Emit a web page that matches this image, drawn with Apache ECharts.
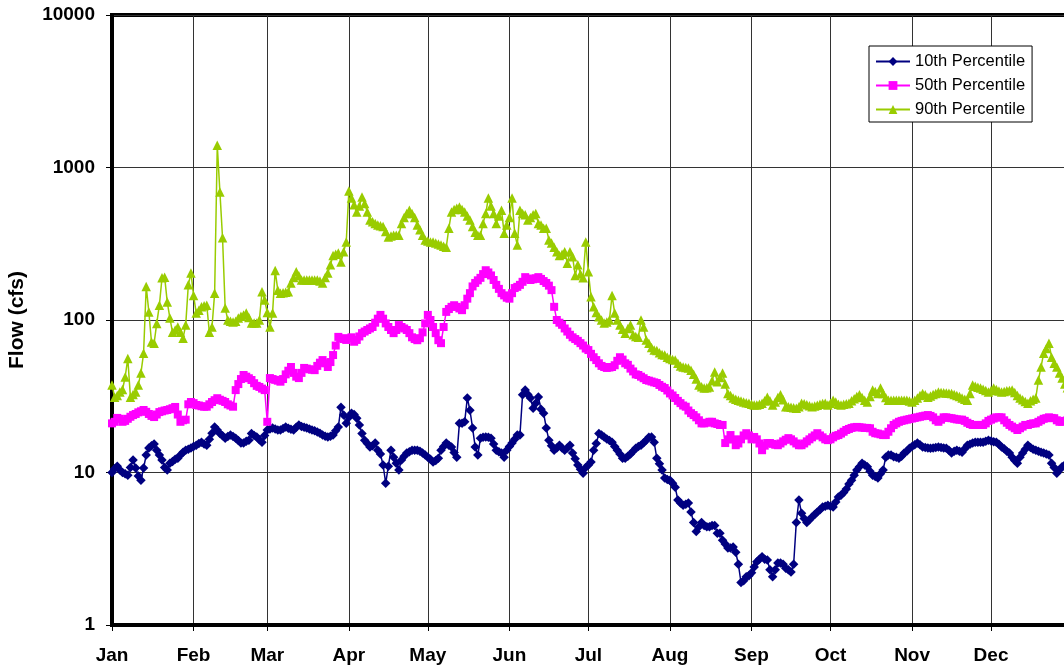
<!DOCTYPE html>
<html>
<head>
<meta charset="utf-8">
<script src="https://cdn.jsdelivr.net/npm/echarts@6/dist/echarts.min.js"></script>
<style>
  html, body { margin: 0; padding: 0; background: #fff; }
  #chart { width: 1064px; height: 671px; }
</style>
</head>
<body>
<div id="chart"></div>
<script>
// Month tick labels and month lengths (365-day year)
const months = ['Jan', 'Feb', 'Mar', 'Apr', 'May', 'Jun', 'Jul', 'Aug', 'Sep', 'Oct', 'Nov', 'Dec'];
const monthDays = [31, 28, 31, 30, 31, 30, 31, 31, 30, 31, 30, 31];

// Daily flow percentiles (cfs), Jan 1 .. Dec 31
const p10 = [
  10, 10.6, 11, 10.4, 10, 9.8, 9.6, 10.8, 12.1, 10.7,
  9.5, 8.9, 10.7, 13, 14.5, 15, 15.4, 14, 13, 12.1,
  10.8, 10.4, 11.5, 11.8, 12.2, 12.4, 13, 13.6, 14, 14.2,
  14.5, 14.8, 15.1, 15.5, 15.8, 15.4, 15.1, 16.5, 18.1, 19.9,
  19, 18, 17.4, 16.8, 17.2, 17.6, 17.2, 16.8, 16.2, 15.6,
  15.6, 16, 16.3, 18, 17.5, 17.1, 16.4, 15.8, 17.5, 19,
  19.3, 19.6, 19.3, 19, 19, 19.4, 19.9, 19.5, 19.2, 19,
  19.8, 20.5, 20, 19.8, 19.6, 19.3, 19, 18.8, 18.4, 18.1,
  17.6, 17.3, 17.1, 17.3, 17.6, 18.8, 19.9, 26.8, 23.8, 21,
  23, 24.5, 24, 22.7, 20.5, 18, 16.3, 15.5, 14.7, 15,
  15.6, 14, 13.2, 11.2, 8.5, 11, 14, 12.6, 11.5, 10.4,
  12.1, 12.8, 13.4, 13.7, 14, 14, 14, 13.8, 13.4, 13,
  12.6, 12.2, 11.7, 12, 12.4, 14, 14.8, 15.6, 15.1, 14.7,
  13.5, 12.6, 21, 21, 21.5, 30.8, 25.6, 19.6, 14.7, 13,
  16.8, 17, 17.1, 17, 16.8, 15.4, 14, 13.7, 13.4, 12.6,
  14, 14.8, 15.6, 16.5, 17.6, 17.6, 32.3, 34.7, 32.5, 30.8,
  26.4, 28.5, 31.3, 26, 24.5, 19.6, 16.3, 15, 14, 14.5,
  15.1, 14.5, 14, 14.5, 15.1, 13.4, 12.3, 11.2, 10.5, 9.9,
  10.8, 11.2, 11.7, 14, 15.5, 18, 17.6, 17.1, 16.6, 16.2,
  15.8, 14.8, 14, 13.2, 12.4, 12.4, 12.8, 13.2, 13.8, 14.4,
  14.8, 15.1, 15.7, 16.3, 17, 17.1, 15.8, 12.4, 11.4, 10.4,
  9.2, 9, 8.9, 8.5, 8, 6.6, 6.3, 6.1, 6.2, 6.3,
  5.5, 4.7, 4.1, 4.4, 4.7, 4.5, 4.4, 4.4, 4.5, 4.5,
  4, 4, 3.6, 3.4, 3.2, 3.2, 3.25, 3, 2.5, 1.9,
  1.95, 2.07, 2.1, 2.2, 2.4, 2.6, 2.7, 2.8, 2.7, 2.67,
  2.3, 2.07, 2.3, 2.55, 2.55, 2.5, 2.36, 2.3, 2.23, 2.5,
  4.7, 6.6, 5.4, 5, 4.7, 4.9, 5.1, 5.3, 5.5, 5.7,
  5.95, 6, 6.1, 6, 5.95, 6.4, 6.9, 7.1, 7.4, 7.8,
  8.4, 8.9, 9.6, 10.4, 10.9, 11.5, 11.2, 10.9, 10.2, 9.6,
  9.4, 9.2, 9.8, 10.4, 12.6, 13, 13, 12.7, 12.6, 12.4,
  12.8, 13.4, 13.8, 14.4, 14.8, 15.2, 15.6, 15.2, 14.7, 14.6,
  14.5, 14.4, 14.5, 14.6, 14.7, 14.6, 14.5, 14.4, 14, 13.4,
  13.8, 14, 13.8, 13.6, 14.3, 15.1, 15.3, 15.6, 15.8, 15.8,
  15.8, 15.8, 16, 16.3, 16.1, 15.9, 15.8, 15.3, 14.7, 14.3,
  13.8, 13.4, 12.6, 12, 11.5, 12.6, 13.4, 14.2, 15.1, 14.6,
  14.2, 14, 13.8, 13.6, 13.4, 13.2, 13, 11.5, 10.8, 9.9,
  10.4, 10.9, 11.2, 11.5, 11.8
];

const p50 = [
  21, 21.5, 22.8, 22.5, 21.5, 21.8, 22.5, 23.2, 23.8, 24.2,
  24.8, 25.2, 25.7, 25, 24.2, 23.5, 23.1, 24, 24.9, 25.2,
  25.5, 25.7, 26, 26.4, 26.9, 24, 21.5, 22, 22.2, 28,
  29, 28.5, 27.7, 27.5, 27.2, 27, 27, 28, 29, 29.8,
  30.7, 30, 29.5, 29, 28, 27.5, 27, 34.7, 38, 41,
  43.6, 42.5, 41.5, 40.4, 38.5, 37, 36.4, 35.5, 34.7, 21.5,
  41.6, 41, 40.5, 40, 39.4, 41, 44, 46.5, 49.2, 45,
  42.5, 41.6, 45, 48.5, 48, 47.5, 47.2, 46.9, 50, 52.5,
  54.6, 52, 49.2, 53, 58.9, 68, 77.5, 76, 75, 74,
  76, 77, 72, 74, 78, 82, 84, 86, 88, 90,
  96, 102, 108, 102, 95, 90, 86, 82, 86, 92.6,
  90, 88, 86, 82, 77, 75, 73.7, 76, 83, 95,
  108, 100, 90, 82, 73.7, 70.5, 90, 113, 118, 122,
  125, 122, 119, 116, 125, 138, 150, 166, 175, 182,
  189, 200, 212, 205, 196, 183, 170, 160, 150, 145,
  140, 138, 150, 162, 165, 170, 178, 191, 187, 183,
  185, 188, 191, 186, 180, 175, 168, 157, 122, 100,
  96, 93, 88, 84, 80, 77, 75, 73, 70.5, 68,
  65, 63.5, 60, 57, 54.6, 52, 50, 49.2, 48.5, 48.8,
  49.2, 50.5, 54, 57, 55, 52, 50.8, 48, 46, 44,
  43.6, 42.5, 41.5, 40.4, 40, 39.5, 39, 38.6, 37.5, 36.5,
  35.8, 34.5, 33, 32, 30.8, 29.5, 28.5, 27.5, 27, 25.5,
  24.5, 23.8, 23, 22, 21, 21, 21.2, 21.5, 21.5, 21,
  20.8, 20.5, 20.5, 15.6, 16.5, 17.6, 16.5, 15.1, 15.5, 16.5,
  17.5, 18.1, 17.5, 16.5, 17.1, 16.5, 15.5, 14, 15, 15.6,
  15.6, 15.4, 15.2, 15.1, 15.5, 16, 16.4, 16.8, 16.5, 16,
  15.5, 15.1, 15.1, 15.5, 16, 16.5, 17, 17.5, 18.1, 17.5,
  17, 16.5, 16.3, 16.5, 17, 17.4, 17.6, 18, 18.5, 19,
  19.3, 19.6, 19.8, 19.9, 19.8, 19.7, 19.6, 19.6, 19.5, 18.5,
  18.1, 18, 17.8, 17.6, 17.6, 18.5, 19.5, 20.5, 21, 21.5,
  21.8, 22, 22.2, 22.4, 22.6, 22.8, 23, 23.2, 23.4, 23.6,
  23.8, 23.5, 23, 22, 21.5, 22.2, 23, 23, 22.8, 22.7,
  22.5, 22.3, 22.2, 22.2, 21.8, 21.2, 20.8, 20.5, 20.5, 20.5,
  20.5, 20.5, 21, 21.8, 22.2, 22.6, 23, 23, 23, 22,
  21.2, 20.5, 20, 19.5, 19, 19.5, 20, 20.5, 20.5, 20.8,
  21, 21, 21.5, 22, 22.5, 22.7, 23, 22.8, 22.7, 22,
  21.5, 21.5, 21.8, 22, 22
];

const p90 = [
  37.5, 31.2, 32, 33.7, 35, 42.3, 56, 31.2, 32.5, 33.7,
  37.5, 45, 60.5, 166, 113, 71.8, 70.5, 95, 125, 189,
  191, 131, 103, 83, 86, 90, 83, 76, 92.6, 170,
  203, 145, 111, 116, 122, 124, 125, 83, 90, 150,
  1400, 692, 346, 120, 100, 98, 97, 98, 103, 106,
  108, 111, 104, 95.5, 95.5, 95.5, 100, 153, 135, 112,
  90, 111, 211, 157, 150, 151, 152, 153, 175, 190,
  207, 195, 183, 183, 183, 183, 183, 183, 183, 180,
  175, 190, 203, 230, 265, 270, 275, 240, 280, 325,
  700, 630, 570, 510, 560, 640, 580, 510, 452, 440,
  430, 420, 415, 410, 380, 350, 355, 360, 360, 360,
  430, 470, 500, 525, 500, 470, 420, 390, 360, 335,
  330, 325, 325, 320, 315, 310, 305, 300, 400, 510,
  530, 540, 550, 530, 510, 480, 452, 410, 376, 360,
  360, 430, 500, 630, 560, 500, 430, 480, 525, 370,
  420, 470, 630, 370, 310, 525, 500, 490, 452, 470,
  490, 500, 430, 420, 400, 400, 335, 320, 300, 280,
  265, 270, 280, 236, 280, 260, 196, 230, 200, 189,
  325, 207, 142, 122, 112, 105, 100, 95.5, 97, 100,
  145, 111, 100, 92.6, 87, 82, 88, 92.6, 80, 78,
  77, 100, 90, 74, 70.5, 66, 63.5, 63, 61, 59.5,
  59, 57, 56, 55, 54.6, 52, 50, 49.2, 48.8, 48.5,
  46.9, 44, 41, 37.5, 36.5, 35.8, 36, 36.4, 40, 45.6,
  39.4, 42, 44.9, 38, 33, 32, 30.8, 30.2, 29.8, 29.4,
  29, 28.7, 28.4, 28, 27.7, 27.7, 28, 28.5, 29.5, 31.2,
  29.5, 27.7, 29, 31, 32.3, 30, 27, 27, 26.8, 26.6,
  26.4, 27, 28.5, 28.2, 27.8, 27.4, 27, 27.3, 27.6, 28,
  28.3, 28.5, 27.7, 28.5, 29.8, 29, 28, 27.7, 28, 28.2,
  28.5, 29.5, 30.5, 31.5, 32.3, 31, 29.8, 29, 31.5, 34.7,
  34, 33, 35.8, 33, 31, 29.8, 29.8, 29.8, 29.8, 29.8,
  29.8, 29.8, 29.8, 29.4, 29, 29.8, 30.8, 32, 33, 32.3,
  31.2, 31.8, 32.5, 33, 33.7, 33.5, 33.3, 33.2, 33.1, 33,
  32.5, 32, 31.5, 30.8, 30.2, 29.8, 33, 37.5, 36.8, 36.2,
  35.8, 35.2, 34.5, 33.7, 34.5, 35.8, 35, 34.2, 33.7, 34,
  34.3, 34.5, 34.7, 33.5, 32, 30.8, 30, 29.2, 28.5, 29.5,
  30.2, 30.8, 40.4, 49.2, 60.5, 65, 70.5, 57, 52, 49.2,
  45, 41.6, 38, 36, 35
];

// Build one category per day and remember where each month begins
const days = [];
const monthStart = new Set();
months.forEach(function (m, i) {
  monthStart.add(days.length);
  for (let d = 1; d <= monthDays[i]; d++) days.push(m + ' ' + d);
});
const isMonthStart = function (index) { return monthStart.has(index); };

const FONT = '"Liberation Sans", Arial, Helvetica, sans-serif';
const chart = echarts.init(document.getElementById('chart'), null, { renderer: 'canvas' });

chart.setOption({
  animation: false,
  backgroundColor: '#fff',
  grid: {
    left: 112, right: -6, top: 15, bottom: 46,
    containLabel: false,
    outerBoundsMode: 'none',
    show: true, borderColor: '#000', borderWidth: 4, backgroundColor: 'transparent'
  },
  legend: {
    orient: 'vertical',
    left: 869, top: 46,
    padding: [7, 7, 4, 6],
    itemWidth: 34, itemHeight: 11, itemGap: 7,
    backgroundColor: '#fff', borderColor: '#000', borderWidth: 1,
    textStyle: { fontFamily: FONT, fontSize: 16.5, color: '#000', lineHeight: 17 },
    data: ['10th Percentile', '50th Percentile', '90th Percentile']
  },
  xAxis: {
    type: 'category',
    data: days,
    boundaryGap: false,
    axisLine: { show: true, lineStyle: { color: '#000', width: 4 } },
    axisTick: { show: true, interval: isMonthStart, length: 6, lineStyle: { color: '#000', width: 1 } },
    axisLabel: {
      interval: isMonthStart,
      formatter: function (v) { return v.split(' ')[0]; },
      margin: 21,
      fontFamily: FONT, fontSize: 19, fontWeight: 'bold', color: '#000'
    },
    splitLine: { show: true, interval: isMonthStart, lineStyle: { color: '#333', width: 1 } }
  },
  yAxis: {
    type: 'log',
    logBase: 10,
    min: 1, max: 10000,
    name: 'Flow (cfs)',
    nameLocation: 'middle',
    nameRotate: 90,
    nameGap: 84,
    nameTextStyle: { fontFamily: FONT, fontSize: 21, fontWeight: 'bold', color: '#000' },
    axisLine: { show: true, lineStyle: { color: '#000', width: 4 } },
    axisTick: { show: true, length: 6, lineStyle: { color: '#000', width: 1 } },
    axisLabel: {
      margin: 17,
      formatter: function (v) { return String(Math.round(v)); },
      fontFamily: FONT, fontSize: 19, fontWeight: 'bold', color: '#000'
    },
    splitLine: { show: true, lineStyle: { color: '#333', width: 1 } }
  },
  series: [
    {
      name: '10th Percentile', type: 'line', data: p10,
      symbol: 'diamond', symbolSize: 9.5, showAllSymbol: true,
      itemStyle: { color: '#000080' },
      lineStyle: { color: '#000080', width: 1.5 }
    },
    {
      name: '50th Percentile', type: 'line', data: p50,
      symbol: 'rect', symbolSize: 8, showAllSymbol: true,
      itemStyle: { color: '#ff00ff' },
      lineStyle: { color: '#ff00ff', width: 1.5 }
    },
    {
      name: '90th Percentile', type: 'line', data: p90,
      symbol: 'triangle', symbolSize: 9.5, showAllSymbol: true,
      itemStyle: { color: '#99cc00' },
      lineStyle: { color: '#99cc00', width: 1.5 }
    }
  ]
});
</script>
</body>
</html>
